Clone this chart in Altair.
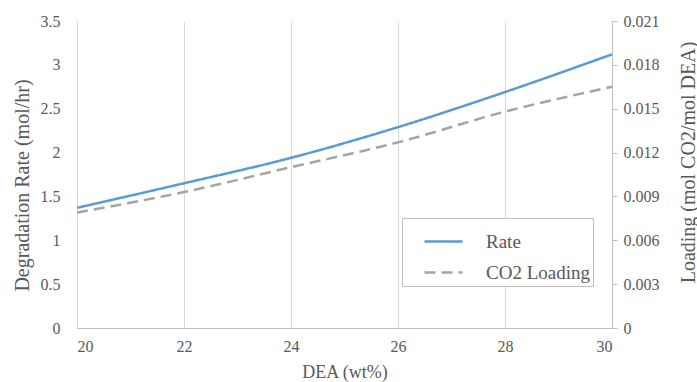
import altair as alt
import pandas as pd

# DEA concentration (wt%)
dea_wt = [20, 22, 24, 26, 28, 30]
# Degradation rate (mol/hr), left axis
rate = [1.37, 1.65, 1.94, 2.29, 2.69, 3.12]
# CO2 loading (mol CO2/mol DEA), right axis
co2_loading = [0.0079, 0.0093, 0.0110, 0.0127, 0.0148, 0.0165]

series_names = ["Rate", "CO2 Loading"]
series_colors = ["#5b9bd5", "#a5a5a5"]
series_dashes = [[1, 0], [11, 6]]

left_ticks = [0, 0.5, 1, 1.5, 2, 2.5, 3, 3.5]
right_ticks = [0, 0.003, 0.006, 0.009, 0.012, 0.015, 0.018, 0.021]
x_ticks = [20, 22, 24, 26, 28, 30]

rate_df = pd.DataFrame({"dea": dea_wt, "value": rate, "series": series_names[0]})
load_df = pd.DataFrame({"dea": dea_wt, "value": co2_loading, "series": series_names[1]})

FONT = "Liberation Serif"
TEXT = "#595959"

legend = alt.Legend(
    title=None,
    orient="none",
    legendX=325,
    legendY=197,
    strokeColor="#bfbfbf",
    fillColor="white",
    padding=3,
    symbolType="stroke",
    symbolSize=1444,
    symbolStrokeWidth=2.5,
    symbolOffset=18,
    labelOffset=22,
    rowPadding=-7,
    labelFont=FONT,
    labelFontSize=19,
    labelColor=TEXT,
)

color = alt.Color(
    "series:N",
    scale=alt.Scale(domain=series_names, range=series_colors),
    legend=legend,
)
dash = alt.StrokeDash(
    "series:N",
    scale=alt.Scale(domain=series_names, range=series_dashes),
    legend=legend,
)

x_enc = alt.X(
    "dea:Q",
    scale=alt.Scale(domain=[20, 30], nice=False),
    axis=alt.Axis(
        values=x_ticks,
        format="d",
        title="DEA (wt%)",
        titleY=49,
        titleBaseline="alphabetic",
        ticks=False,
        labelPadding=10,
        domainColor="#bfbfbf",
        gridColor="#d9d9d9",
    ),
)

rate_line = (
    alt.Chart(rate_df)
    .mark_line(strokeWidth=2.5, interpolate="monotone")
    .encode(
        x=x_enc,
        y=alt.Y(
            "value:Q",
            scale=alt.Scale(domain=[0, 3.5], nice=False),
            axis=alt.Axis(
                values=left_ticks,
                labelExpr="format(datum.value, '~g')",
                title="Degradation Rate (mol/hr)",
                titleX=-55,
                titleY=164,
                titleAngle=270,
                titleBaseline="middle",
                titleAlign="center",
                titleFontSize=20,
                ticks=False,
                domain=False,
                labelPadding=17,
                gridColor="#d9d9d9",
            ),
        ),
        color=color,
        strokeDash=dash,
    )
)

load_line = (
    alt.Chart(load_df)
    .mark_line(strokeWidth=2.5, interpolate="monotone")
    .encode(
        x=x_enc,
        y=alt.Y(
            "value:Q",
            scale=alt.Scale(domain=[0, 0.021], nice=False),
            axis=alt.Axis(
                orient="right",
                values=right_ticks,
                labelExpr="datum.value == 0 ? '0' : format(datum.value, '.3f')",
                title="Loading (mol CO2/mol DEA)",
                titleX=76,
                titleY=141,
                titleAngle=270,
                titleBaseline="middle",
                titleAlign="center",
                titleFontSize=20,
                grid=False,
                tickSize=5,
                tickColor="#bfbfbf",
                domainColor="#bfbfbf",
                labelPadding=6,
            ),
        ),
        color=color,
        strokeDash=dash,
    )
)

chart = (
    alt.layer(load_line, rate_line)
    .resolve_scale(y="independent")
    .properties(
        width=535,
        height=307,
        autosize=alt.AutoSizeParams(type="none"),
        padding={"left": 77, "top": 21, "right": 85, "bottom": 54},
    )
    .configure(font=FONT)
    .configure_view(stroke=None)
    .configure_axis(
        labelFont=FONT,
        labelFontSize=16,
        labelColor=TEXT,
        titleFont=FONT,
        titleFontSize=18,
        titleColor=TEXT,
        titleFontWeight="normal",
    )
)

chart.save("out.html", embed_options={"renderer": "svg", "actions": False})
